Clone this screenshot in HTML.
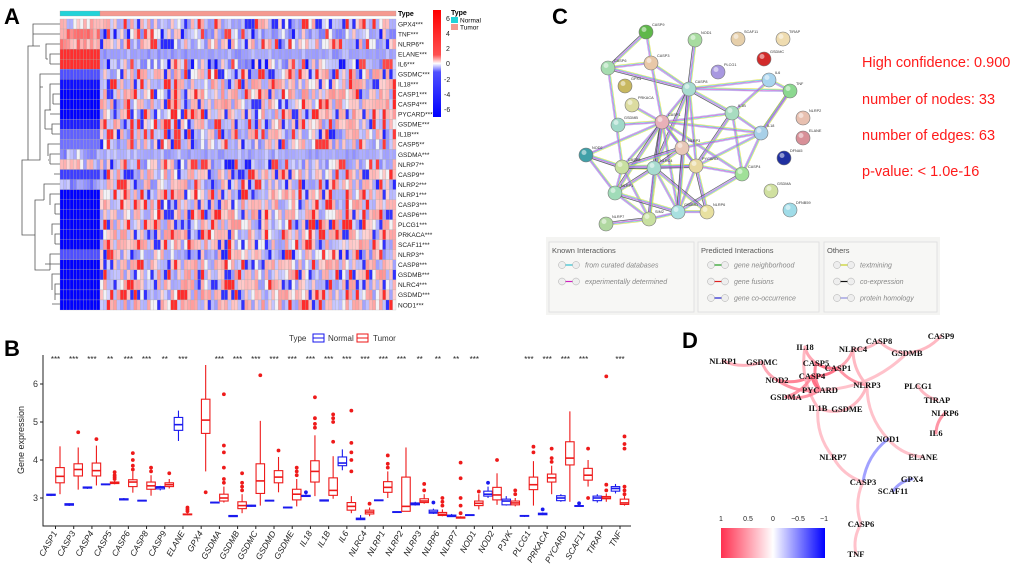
<!DOCTYPE html>
<html><head><meta charset="utf-8">
<style>
html,body{margin:0;padding:0;background:#fff;}
svg{display:block;font-family:"Liberation Sans",sans-serif;}
</style></head>
<body>
<svg id="fig" width="1020" height="568" viewBox="0 0 1020 568" xmlns="http://www.w3.org/2000/svg">
<defs>
<linearGradient id="hmgrad" x1="0" y1="0" x2="0" y2="1">
<stop offset="0" stop-color="#ff0000"/><stop offset="0.42" stop-color="#ff5050"/><stop offset="0.5" stop-color="#ffffff"/><stop offset="0.58" stop-color="#5050ff"/><stop offset="1" stop-color="#0000ff"/>
</linearGradient>
<linearGradient id="corgrad" x1="0" y1="0" x2="1" y2="0">
<stop offset="0" stop-color="#ff3050"/><stop offset="0.5" stop-color="#ffffff"/><stop offset="1" stop-color="#0000ff"/>
</linearGradient>
</defs>
<g id="panelA">
<text x="4" y="24" font-size="22" font-weight="bold">A</text>
<g id="dendro" stroke="#555" stroke-width="0.8" fill="none">
<path d="M60 24 H33 V46 M60 34 H33 M60 44 H46 V59 M60 54 H50 V64 M60 64 H50 M48 59 H46 M40 46 H28 V160"/>
<path d="M60 74 H40 V100 M60 84 H50 V110 M60 94 H53 V104 M60 104 H53 M60 114 H50 M60 124 H52 V134 M60 134 H52 M51 110 H45 V129 M52 129 H45 M43 87 H40 M60 144 H48 V156 M60 154 H50 V164 M60 164 H50 M60 174 H54 M49 160 H48 M40 100 V160 H28"/>
<path d="M60 184 H44 V200 M60 194 H50 V205 M60 204 H55 V214 M60 214 H55 M60 224 H52 V235 M60 234 H55 V244 M60 244 H55 M60 254 H50 V270 M60 264 H45 M60 274 H52 V290 M60 284 H55 V300 M60 294 H55 M60 304 H52 M44 200 H35 V270 H50 M28 160 H22 V235 H35"/>
</g>
<g id="hmcells"></g>
<g id="hmlabels" font-size="6.5" fill="#222"></g>
<text x="398" y="16" font-size="7" font-weight="bold">Type</text>
<rect x="433" y="10" width="8" height="107" fill="url(#hmgrad)"/>
<g font-size="7" fill="#222">
<text x="446" y="21">6</text><text x="446" y="36">4</text><text x="446" y="51">2</text><text x="446" y="66">0</text><text x="444" y="82">-2</text><text x="444" y="97">-4</text><text x="444" y="112">-6</text>
</g>
<text x="451" y="15" font-size="7" font-weight="bold">Type</text>
<rect x="451" y="17" width="7" height="6" fill="#22d3d8"/>
<text x="460" y="22.5" font-size="6.5">Normal</text>
<rect x="451" y="24" width="7" height="6" fill="#f59a90"/>
<text x="460" y="29.5" font-size="6.5">Tumor</text>
</g>

<g id="panelC">
<text x="552" y="24" font-size="22" font-weight="bold">C</text>
<g id="ppiEdges"></g>
<g id="ppiNodes"></g>
<g fill="#ff1a1a" font-size="14.5">
<text x="862" y="67">High confidence: 0.900</text>
<text x="862" y="104">number of nodes: 33</text>
<text x="862" y="140">number of edges: 63</text>
<text x="862" y="176">p-value: &lt; 1.0e-16</text>
</g>
<rect x="546" y="237" width="394" height="78" fill="#f4f4f2"/>
<g id="legC" font-size="7" fill="#666"></g>
</g>

<g id="panelB">
<text x="4" y="356" font-size="22" font-weight="bold">B</text>
<text x="289" y="341" font-size="8" fill="#333">Type</text>
<rect x="313" y="334" width="11" height="8" fill="none" stroke="#1515ee"/>
<line x1="313" y1="338" x2="324" y2="338" stroke="#1515ee"/>
<text x="328" y="341" font-size="8" fill="#333">Normal</text>
<rect x="357" y="334" width="11" height="8" fill="none" stroke="#ee1515"/>
<line x1="357" y1="338" x2="368" y2="338" stroke="#ee1515"/>
<text x="373" y="341" font-size="8" fill="#333">Tumor</text>
<text transform="translate(24,440) rotate(-90)" text-anchor="middle" font-size="9" fill="#222">Gene expression</text>
<g id="bpAxes"></g>
<g id="bpMarks"></g>
</g>

<g id="panelD">
<text x="682" y="348" font-size="22" font-weight="bold">D</text>
<g id="corEdges" fill="none" stroke-linecap="round"></g>
<g id="corLabels" font-family="Liberation Serif,serif" font-weight="bold" font-size="8.5" text-anchor="middle" fill="#111"></g>
<rect x="721" y="528" width="104" height="30" fill="url(#corgrad)"/>
<g font-size="7" fill="#222" text-anchor="middle">
<text x="721" y="521">1</text><text x="748" y="521">0.5</text><text x="773" y="521">0</text><text x="798" y="521">−0.5</text><text x="824" y="521">−1</text>
</g>
</g>
</svg>
<script>
const NS='http://www.w3.org/2000/svg';
function mk(tag,attrs,parent){const e=document.createElementNS(NS,tag);for(const k in attrs)e.setAttribute(k,attrs[k]);parent.appendChild(e);return e;}

/* ---------- Panel A: heatmap data ---------- */
const hmRows=['GPX4***','TNF***','NLRP6**','ELANE***','IL6***','GSDMC***','IL18***','CASP1***','CASP4***','PYCARD***','GSDME***','IL1B***','CASP5**','GSDMA***','NLRP7**','CASP9**','NLRP2***','NLRP1***','CASP3***','CASP6***','PLCG1***','PRKACA***','SCAF11***','NLRP3**','CASP8***','GSDMB***','NLRC4***','GSDMD***','NOD1***'];
const hmNormal=[0.1,1.6,1.5,4.5,4.5,-3.5,-5.5,-6,-6,-6,-5,-3,-2.5,-1.2,-0.3,-4,-1.8,-6,-6,-6,-6,-6,-6,-3.5,-6,-6,-6,-6,-6];
const hmTumorBase=[0,-0.6,-0.2,-1.2,-0.8,0,0.1,0.2,0.2,0.2,0,-0.3,-0.3,-1,-0.5,0,-0.2,0.2,0.2,0.2,0.2,0.1,0.1,-0.3,0.1,0.1,0.1,0.1,0.1];
const hmNormalCols=12, hmTumorCols=88;
function hcol(v){v=Math.max(-6,Math.min(6,v));let t=Math.abs(v)/6;
 if(Math.abs(v)<0.15)return '#f2f2f6';
 const s=0.12+0.88*Math.pow(t,0.8);const g=Math.round(255*(1-s));
 if(v>0)return `rgb(255,${g},${g})`;
 return `rgb(${g},${g},255)`;}
function noise(i,j){let h=(i*374761393+j*668265263)^0x5bd1e995;h=(h^(h>>>13))*1274126177;h=h^(h>>>16);return ((h>>>0)%1000)/1000;}
(function(){
 const g=document.getElementById('hmcells');
 const x0=60,xn=100,x1=396,y0=19,rh=(310-19)/hmRows.length;
 const cwN=(xn-x0)/hmNormalCols, cwT=(x1-xn)/hmTumorCols;
 const tb=mk('rect',{x:x0,y:11,width:xn-x0,height:5,fill:'#22d3d8',stroke:'#999','stroke-width':0.3},g);
 
 
 const tt=mk('rect',{x:xn,y:11,width:x1-xn,height:5,fill:'#f59a90',stroke:'#999','stroke-width':0.3},g);
 
 
 hmRows.forEach((r,i)=>{
  const y=y0+i*rh;
  for(let j=0;j<hmNormalCols;j++){
   const v=hmNormal[i]+(Math.abs(hmNormal[i])<2?(noise(i,j)-0.5)*3:0);
   mk('rect',{x:x0+j*cwN,y:y,width:cwN,height:rh,fill:hcol(v),stroke:'#aaa','stroke-width':0.25},g);
  }
  for(let j=0;j<hmTumorCols;j++){
   const n=noise(i+50,j+7);let v=hmTumorBase[i];
   const sp=(i===3||i===13)?0.15:1;
   if(n>0.88)v+=4.5*sp;else if(n<0.1)v-=4.5*sp;else v+=(n-0.5)*4*sp;
   mk('rect',{x:xn+j*cwT,y:y,width:cwT,height:rh,fill:hcol(v),stroke:'#aaa','stroke-width':0.25},g);
  }
  const t=mk('text',{x:398,y:y+rh/2+2.3},document.getElementById('hmlabels'));t.textContent=r;
  
  
 });
})();

/* ---------- Panel C: PPI network ---------- */
const ppiNames=['CASP9','NOD1','SCAF11','TIRAP','GSDMC','PLCG1','CASP6','CASP3','GPX4','CASP8','IL6','TNF','PRKACA','IL1B','GSDMB','CASP1','NLRP2','IL18','ELANE','NOD2','NLRP3','DFNA5','CASP5','NLRC4','PYCARD','CASP4','NLRP1','GSDMA','GSDMD','NLRP6','SIM2','NLRP7','DFNB59'];
const ppiX=[646,695,738,783,764,718,608,651,625,689,769,790,632,732,618,662,803,761,803,586,682,784,622,654,696,742,615,771,678,707,649,606,790];
const ppiY=[32,40,39,39,59,72,68,63,86,89,80,91,105,113,125,122,118,133,138,155,148,158,167,168,166,174,193,191,212,212,219,224,210];
const ppiCol=['#5fb84a','#a8dca0','#e6cfaa','#efdcb0','#d22b2b','#a898e0','#a6dcb0','#e8c8a8','#c8b860','#a8dcd0','#a8d4ee','#8cd890','#dcdca0','#a8dcc0','#a0d8c8','#e8b0b8','#e8c0b0','#a8d0e8','#d89098','#40a0a8','#e8c8b8','#2030a0','#c8e0a0','#a8dcd0','#e8d8a0','#a0e098','#a0dcb8','#d0e0a0','#a8e0e0','#e8e0a0','#c8e0a0','#b0d8a0','#a0dce8'];
const ppiEdgeA=['CASP9','CASP9','CASP6','CASP6','CASP3','CASP3','NOD1','CASP8','CASP8','CASP8','CASP8','CASP8','CASP8','IL6','IL6','TNF','IL1B','IL1B','IL1B','IL1B','CASP1','CASP1','CASP1','CASP1','CASP1','CASP1','CASP1','CASP1','CASP1','CASP1','NOD2','NOD2','NLRP3','NLRP3','NLRP3','NLRP3','NLRP3','NLRC4','NLRC4','NLRC4','NLRC4','CASP5','CASP5','CASP5','NLRP1','NLRP1','PYCARD','PYCARD','PYCARD','GSDMD','GSDMD','SIM2','IL18','IL18','CASP4','CASP6','GSDMB','NLRP6','CASP1','CASP8','CASP8','IL18','NLRC4'];
const ppiEdgeB=['CASP6','CASP3','CASP3','CASP8','CASP8','CASP1','CASP8','TNF','IL6','IL1B','CASP1','NLRP3','NLRC4','IL1B','TNF','IL18','IL18','CASP1','PYCARD','CASP4','NLRP3','NLRC4','PYCARD','CASP5','NLRP1','GSDMD','IL18','SIM2','CASP4','NOD2','CASP5','NLRP1','PYCARD','NLRC4','IL18','GSDMD','CASP5','CASP5','PYCARD','NLRP1','GSDMD','NLRP1','PYCARD','SIM2','SIM2','GSDMD','GSDMD','CASP4','NLRP6','SIM2','NLRP6','NLRP7','PYCARD','CASP4','GSDMD','CASP5','CASP1','NLRC4','PRKACA','PYCARD','GSDMD','TNF','SIM2'];
(function(){
 const eg=document.getElementById('ppiEdges'),ng=document.getElementById('ppiNodes');
 const idx=n=>ppiNames.indexOf(n);
 const cols=['#e0e040','#40c0e0','#d040d0','#a0a0e8','#333'];
 ppiEdgeA.forEach((a,k)=>{const i=idx(a),j=idx(ppiEdgeB[k]);
  const dx=ppiX[j]-ppiX[i],dy=ppiY[j]-ppiY[i],L=Math.hypot(dx,dy)||1,nx=-dy/L,ny=dx/L;
  cols.forEach((c,m)=>{if(m===4&&k%3)return;const o=(m-2)*0.8;
   mk('line',{x1:ppiX[i]+nx*o,y1:ppiY[i]+ny*o,x2:ppiX[j]+nx*o,y2:ppiY[j]+ny*o,stroke:c,'stroke-width':0.7,opacity:0.8},eg);});
 });
 ppiNames.forEach((n,i)=>{
  const c=mk('circle',{cx:ppiX[i],cy:ppiY[i],r:7,fill:ppiCol[i],stroke:'#777','stroke-width':0.6},ng);
  
  
  mk('circle',{cx:ppiX[i]-2,cy:ppiY[i]-2.5,r:2.5,fill:'#fff',opacity:0.5},ng);
  const t=mk('text',{x:ppiX[i]+6,y:ppiY[i]-6,'font-size':3.8,fill:'#333'},ng);t.textContent=n;
  
  
 });
 const lg=document.getElementById('legC');
 const boxes=[[549,242,145,'Known Interactions',[['#30c0d0','from curated databases'],['#d020c0','experimentally determined']]],
  [698,242,121,'Predicted Interactions',[['#20a020','gene neighborhood'],['#e02020','gene fusions'],['#2020d0','gene co-occurrence']]],
  [824,242,113,'Others',[['#c8d020','textmining'],['#111','co-expression'],['#9090e0','protein homology']]]];
 boxes.forEach(b=>{
  const r=mk('rect',{x:b[0],y:b[1],width:b[2],height:70,fill:'#f7f7f5',stroke:'#ddd','stroke-width':0.8},lg);
  
  
  const t=mk('text',{x:b[0]+3,y:b[1]+11,'font-size':7.5,fill:'#555'},lg);t.textContent=b[3];
  b[4].forEach((it,k)=>{const y=b[1]+23+k*16.5;
   mk('line',{x1:b[0]+13,y1:y,x2:b[0]+27,y2:y,stroke:it[0],'stroke-width':1.2},lg);
   mk('circle',{cx:b[0]+13,cy:y,r:3.5,fill:'#eee',stroke:'#aaa','stroke-width':0.5},lg);
   mk('circle',{cx:b[0]+27,cy:y,r:3.5,fill:'#eee',stroke:'#aaa','stroke-width':0.5},lg);
   const tx=mk('text',{x:b[0]+36,y:y+2.5,'font-style':'italic','font-size':7,fill:'#888'},lg);tx.textContent=it[1];
  });
 });
})();

/* ---------- Panel B: boxplot data ---------- */
const genes=['CASP1','CASP3','CASP4','CASP5','CASP6','CASP8','CASP9','ELANE','GPX4','GSDMA','GSDMB','GSDMC','GSDMD','GSDME','IL18','IL1B','IL6','NLRC4','NLRP1','NLRP2','NLRP3','NLRP6','NLRP7','NOD1','NOD2','PJVK','PLCG1','PRKACA','PYCARD','SCAF11','TIRAP','TNF'];
const sig=['***','***','***','**','***','***','**','***','','***','***','***','***','***','***','***','***','***','***','***','**','**','**','***','','','***','***','***','***','','***'];
/* [low whisker, q1, median, q3, high whisker] */
const normalStats=[[3.05,3.07,3.08,3.1,3.11],[2.79,2.81,2.83,2.85,2.86],[3.24,3.26,3.27,3.29,3.3],[3.34,3.35,3.36,3.37,3.38],[2.94,2.95,2.96,2.98,3.0],[2.92,2.93,2.93,2.94,2.94],[3.2,3.24,3.28,3.3,3.32],[4.5,4.78,4.93,5.12,5.3],null,[2.86,2.87,2.88,2.89,2.9],[2.5,2.51,2.52,2.54,2.55],[2.77,2.78,2.8,2.81,2.82],[2.92,2.93,2.93,2.94,2.94],[2.73,2.74,2.75,2.76,2.77],[3.03,3.04,3.05,3.07,3.1],[2.91,2.92,2.93,2.95,2.96],[3.73,3.85,3.92,4.08,4.28],[2.42,2.43,2.45,2.47,2.55],[2.92,2.93,2.94,2.95,2.96],[2.61,2.62,2.63,2.64,2.65],[2.8,2.82,2.84,2.87,2.9],[2.58,2.6,2.63,2.68,2.72],[2.5,2.51,2.53,2.55,2.58],[2.54,2.55,2.55,2.56,2.56],[3.0,3.05,3.1,3.18,3.3],[2.8,2.82,2.92,2.97,3.05],[2.5,2.52,2.53,2.54,2.55],[2.55,2.56,2.58,2.6,2.62],[2.9,2.93,3.0,3.06,3.1],[2.77,2.78,2.79,2.8,2.81],[2.88,2.93,3.0,3.05,3.1],[3.12,3.18,3.25,3.3,3.37]];
const normalOut=[[],[],[],[],[],[],[],[],[],[],[],[],[],[],[3.15],[],[],[],[],[],[],[2.88],[],[],[3.4],[],[],[2.7],[],[2.86],[],[]];
const tumorStats=[[3.1,3.4,3.57,3.8,4.36],[3.22,3.58,3.75,3.9,4.33],[3.33,3.58,3.72,3.92,4.38],[3.36,3.38,3.4,3.42,3.45],[3.14,3.3,3.42,3.48,3.7],[3.06,3.23,3.32,3.42,3.6],[3.25,3.3,3.35,3.4,3.5],[2.55,2.56,2.57,2.58,2.6],[3.7,4.7,5.05,5.6,6.5],[2.88,2.92,3.0,3.1,3.3],[2.6,2.72,2.8,2.9,3.1],[2.8,3.12,3.45,3.9,5.03],[3.15,3.4,3.55,3.72,4.08],[2.78,2.95,3.1,3.23,3.5],[3.05,3.42,3.7,3.98,4.65],[2.98,3.07,3.2,3.53,4.1],[2.6,2.68,2.78,2.88,3.05],[2.52,2.58,2.63,2.68,2.75],[3.0,3.15,3.28,3.43,3.7],[2.65,2.65,2.78,3.55,4.33],[2.85,2.88,2.92,2.98,3.1],[2.52,2.54,2.57,2.62,2.7],[2.46,2.47,2.48,2.5,2.52],[2.7,2.8,2.86,2.92,3.1],[2.82,2.95,3.08,3.28,3.65],[2.78,2.82,2.87,2.92,3.0],[2.8,3.22,3.35,3.55,3.97],[3.1,3.42,3.53,3.63,3.85],[2.9,3.87,4.05,4.48,5.28],[3.3,3.47,3.6,3.78,4.0],[2.9,2.98,3.0,3.04,3.12],[2.8,2.83,2.87,2.97,3.05]];
const tumorOut=[[],[4.73],[4.55],[3.5,3.55,3.6,3.68],[3.75,3.85,4.0,4.18],[3.7,3.8],[3.65],[2.65,2.7,2.75],[3.15],[3.4,3.5,3.8,4.2,4.38,5.73],[3.2,3.3,3.4,3.65],[6.23],[4.25],[3.6,3.7,3.8],[4.85,4.95,5.1,5.65],[4.48,5.0,5.1,5.2],[3.7,4.0,4.2,4.45,5.3],[2.85],[3.8,3.9,4.12],[],[3.2,3.37],[2.8,2.9,3.0],[2.6,2.8,3.0,3.52,3.93],[3.17],[4.0],[3.1,3.2],[4.2,4.35],[3.95,4.05,4.3],[],[3.0,4.3],[3.2,3.35,6.2],[3.1,3.2,3.3,4.3,4.42,4.62]];
const yTicks=[3,4,5,6];
(function(){
 const ax=document.getElementById('bpAxes'),mg=document.getElementById('bpMarks');
 const L=43,R=631,T=355,B=526;
 const yS=v=>498-(v-3)*38;
 const x0=55.5,step=(620-55.5)/(genes.length-1);
 const xS=i=>x0+i*step;
 mk('path',{d:`M${L} ${T} V${B} H${R}`,stroke:'#222','stroke-width':1,fill:'none'},ax);
 yTicks.forEach(v=>{mk('line',{x1:L-3,x2:L,y1:yS(v),y2:yS(v),stroke:'#222'},ax);
  const t=mk('text',{x:L-5,y:yS(v)+3,'text-anchor':'end','font-size':9,fill:'#333'},ax);t.textContent=v;
  
  });
 genes.forEach((g,i)=>{const x=xS(i);
  mk('line',{x1:x,x2:x,y1:B,y2:B+3,stroke:'#222'},ax);
  const t=mk('text',{transform:`translate(${x+2},${B+7}) rotate(-60)`,'text-anchor':'end','font-size':8.5,'font-style':'italic',fill:'#222'},ax);t.textContent=g;
  
  
  const s=mk('text',{x:x,y:362,'text-anchor':'middle','font-size':8,fill:'#222'},ax);s.textContent=sig[i];
  
  
  [[normalStats[i],normalOut[i],-4.5,'#1a1aee'],[tumorStats[i],tumorOut[i],4.5,'#ee1a1a']].forEach(([st,out,off,col])=>{
   if(!st)return;const cx=x+off,w=8.5;
   const grp=mk('g',{stroke:col,'stroke-width':1.1,fill:'none'},mg);
   
   
   mk('line',{x1:cx,x2:cx,y1:yS(st[0]),y2:yS(st[1])},grp);
   mk('line',{x1:cx,x2:cx,y1:yS(st[3]),y2:yS(st[4])},grp);
   mk('rect',{x:cx-w/2,y:yS(st[3]),width:w,height:Math.max(0.8,yS(st[1])-yS(st[3])),fill:'#fff'},grp);
   mk('line',{x1:cx-w/2,x2:cx+w/2,y1:yS(st[2]),y2:yS(st[2]),'stroke-width':1.6},grp);
   out.forEach(o=>mk('circle',{cx:cx,cy:yS(o),r:1.9,fill:col,stroke:'none'},grp));
  });
 });
})();

/* ---------- Panel D: correlation network ---------- */
const corNodes=['NLRP1','GSDMC','IL18','NLRC4','CASP8','CASP9','GSDMB','CASP5','CASP1','NOD2','CASP4','NLRP3','PYCARD','PLCG1','GSDMA','TIRAP','IL1B','GSDME','NLRP6','IL6','NOD1','ELANE','NLRP7','GPX4','CASP3','SCAF11','CASP6','TNF'];
const corX=[723,762,805,853,879,941,907,816,838,777,812,867,820,918,786,937,818,847,945,936,888,923,833,912,863,893,861,856];
const corY=[361,362,347,349,341,336,353,363,368,380,376,385,390,386,397,400,408,409,413,433,439,457,457,479,482,491,524,554];
const corFrom=['NLRP1','GSDMC','NOD2','IL18','IL18','CASP5','CASP4','CASP1','NLRC4','CASP8','GSDMB','CASP1','NLRC4','PYCARD','IL1B','GSDME','GSDMA','GSDMA','IL1B','NLRP3','NOD1','NOD1','NLRP7','CASP3','CASP6','GPX4','PLCG1','NLRP6','CASP5','CASP4','NOD2'];
const corTo=['GSDMC','NOD2','CASP4','CASP5','IL1B','CASP1','CASP1','NLRC4','CASP8','GSDMB','CASP9','NLRP3','NLRP3','GSDMB','GSDME','NLRP3','CASP4','PYCARD','NLRP7','NOD1','ELANE','CASP3','CASP3','CASP6','TNF','SCAF11','TIRAP','IL6','PYCARD','PYCARD','PYCARD'];
const corVal=[0.45,0.5,0.7,0.5,0.4,0.8,0.8,0.5,0.4,0.4,0.4,0.6,0.4,0.35,0.4,0.4,0.6,0.6,0.35,0.35,0.35,-0.55,0.35,0.35,0.35,-0.55,0.4,0.6,0.7,0.8,0.6];
(function(){
 const eg=document.getElementById('corEdges'),lg=document.getElementById('corLabels');
 const idx=n=>corNodes.indexOf(n);
 function ccol(v){const t=Math.min(1,Math.abs(v));if(v>0){return `rgb(255,${Math.round(255-205*t)},${Math.round(255-175*t)})`;}
  return `rgb(${Math.round(255-200*t)},${Math.round(255-200*t)},255)`;}
 corFrom.forEach((a,k)=>{const i=idx(a),j=idx(corTo[k]);
  const x1=corX[i],y1=corY[i],x2=corX[j],y2=corY[j];
  const mx=(x1+x2)/2,my=(y1+y2)/2,dx=x2-x1,dy=y2-y1;
  const cx=mx-dy*0.2,cy=my+dx*0.2;
  const p=mk('path',{d:`M${x1} ${y1} Q${cx} ${cy} ${x2} ${y2}`,stroke:ccol(corVal[k]),'stroke-width':3,opacity:0.85},eg);
  
  
 });
 corNodes.forEach((n,i)=>{const t=mk('text',{x:corX[i],y:corY[i]+3},lg);t.textContent=n;
  
  });
})();
</script>
</body></html>
